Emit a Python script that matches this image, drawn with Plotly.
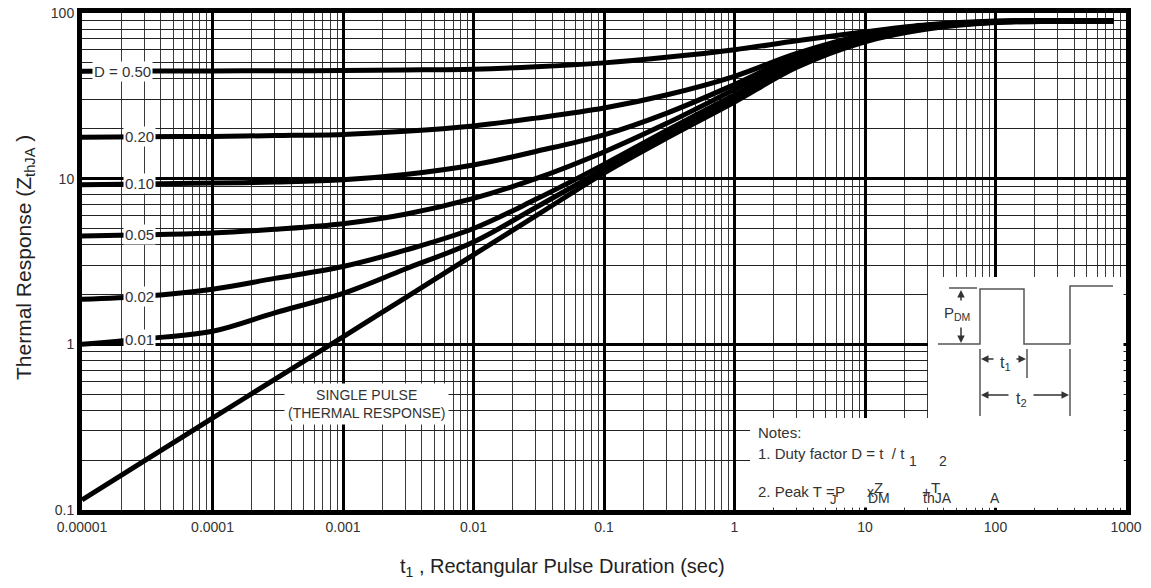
import numpy as np
import plotly.graph_objects as go

# ---------------- data ----------------
t1 = [1e-5, 3e-5, 1e-4, 3e-4, 1e-3, 3e-3, 1e-2, 3e-2, 0.1, 0.3, 1, 3, 10, 30, 100, 300, 800]

d050 = [44.5, 44.6, 44.7, 44.8, 45.0, 45.3, 45.8, 47.3, 50.0, 54.0, 60.0, 68.0, 77.0, 85.0, 89.5, 90.0, 90.0]
d020 = [17.8, 17.9, 18.0, 18.2, 18.5, 19.3, 20.8, 23.2, 26.7, 32.0, 41.5, 57.0, 74.0, 84.0, 89.0, 89.5, 89.8]
d010 = [9.2, 9.3, 9.4, 9.55, 9.85, 10.6, 12.1, 14.6, 18.4, 24.8, 37.0, 55.0, 72.0, 83.0, 88.5, 89.5, 89.6]
d005 = [4.5, 4.58, 4.7, 4.95, 5.35, 6.1, 7.6, 10.0, 14.5, 21.5, 34.5, 53.0, 71.0, 83.0, 88.5, 89.3, 89.5]
d002 = [1.87, 1.95, 2.15, 2.5, 2.95, 3.7, 5.0, 7.5, 12.2, 19.5, 32.0, 51.0, 70.0, 82.0, 88.0, 89.2, 89.5]
d001 = [1.0, 1.08, 1.2, 1.55, 2.03, 2.85, 4.15, 6.7, 11.4, 18.5, 30.8, 50.0, 69.0, 81.5, 88.0, 89.0, 89.5]
single = [0.115, 0.198, 0.358, 0.615, 1.11, 1.91, 3.47, 5.96, 10.8, 17.5, 29.0, 47.0, 67.0, 80.0, 87.5, 89.0, 89.3]

series = [d050, d020, d010, d005, d002, d001, single]
duty_labels = ["D = 0.50", "0.20", "0.10", "0.05", "0.02", "0.01"]

x_tickvals = [1e-5, 1e-4, 1e-3, 1e-2, 1e-1, 1, 10, 100, 1000]
x_ticktext = ["0.00001", "0.0001", "0.001", "0.01", "0.1", "1", "10", "100", "1000"]
y_tickvals = [0.1, 1, 10, 100]
y_ticktext = ["0.1", "1", "10", "100"]

# ---------------- layout helpers ----------------
W, H = 1151, 588
L, R, T, B = 82, 1126, 13, 510   # plot area in page pixels


def px(xp):
    return (xp - L) / (R - L)


def py(yp):
    return (B - yp) / (B - T)


FONT = "Liberation Sans, Arial, sans-serif"
NARROW = "Liberation Sans Narrow, Arial Narrow, Liberation Sans, sans-serif"
TXT = "#333333"

fig = go.Figure()
for s in series:
    fig.add_trace(go.Scatter(x=t1, y=s, mode="lines",
                             line=dict(color="black", width=5, shape="spline", smoothing=1.0),
                             hoverinfo="skip", showlegend=False))

minor_x = [k * 10.0 ** n for n in range(-5, 3) for k in range(2, 10)]
minor_y = [k * 10.0 ** n for n in range(-1, 2) for k in range(2, 10)]

fig.update_xaxes(type="log", range=[-5, 3], tickvals=x_tickvals, ticktext=x_ticktext,
                 showgrid=True, gridcolor="black", gridwidth=3, automargin=False,
                 showline=True, linecolor="black", linewidth=5, mirror=True,
                 ticks="", zeroline=False,
                 tickfont=dict(family=FONT, size=14, color=TXT),
                 minor=dict(tickvals=minor_x, showgrid=True, gridcolor="#3a3a3a", gridwidth=1, ticks=""))
fig.update_yaxes(type="log", range=[-1, 2], tickvals=y_tickvals, ticktext=y_ticktext,
                 showgrid=True, gridcolor="black", gridwidth=3, automargin=False,
                 showline=True, linecolor="black", linewidth=5, mirror=True,
                 ticks="", zeroline=False,
                 tickfont=dict(family=FONT, size=14, color=TXT),
                 minor=dict(tickvals=minor_y, showgrid=True, gridcolor="#222222", gridwidth=1, ticks=""))

annotations = []
shapes = []


def text_at(text, xp, yp, size, family=FONT, anchor="center", color=TXT, **kw):
    annotations.append(dict(x=px(xp), y=py(yp), xref="paper", yref="paper", text=text,
                            showarrow=False, xanchor=anchor, yanchor="middle",
                            font=dict(family=family, size=size, color=color), **kw))


# duty-cycle labels on the curves (white background cuts the line)
label_x = [2.06e-5, 2.75e-5, 2.75e-5, 2.75e-5, 2.75e-5, 2.75e-5]
for lab, lx, s in zip(duty_labels, label_x, series[:6]):
    ly = 10 ** np.interp(np.log10(lx), np.log10(t1), np.log10(s))
    annotations.append(dict(x=np.log10(lx), y=np.log10(ly), xref="x", yref="y",
                            text=lab, showarrow=False, bgcolor="white", borderpad=1,
                            xanchor="center", yanchor="middle",
                            font=dict(family=FONT, size=15, color=TXT)))

text_at("SINGLE PULSE<br>(THERMAL RESPONSE)", 366, 404, 14, bgcolor="white", borderpad=3)

# white areas for inset and notes (above the grid)
shapes.append(dict(type="rect", xref="paper", yref="paper", x0=px(928), x1=px(1123.5), y0=py(507.5), y1=py(277),
                   fillcolor="white", line=dict(width=0), layer="above"))
shapes.append(dict(type="rect", xref="paper", yref="paper", x0=px(750), x1=px(1123.5), y0=py(507.5), y1=py(418),
                   fillcolor="white", line=dict(width=0), layer="above"))

# pulse waveform
GREY = "#555555"
wave = [(938, 344), (980, 344), (980, 289), (1024, 289), (1024, 344), (1070, 344), (1070, 286), (1113, 286)]
path = "M " + " L ".join(f"{px(a):.5f},{py(b):.5f}" for a, b in wave)
shapes.append(dict(type="path", path=path, xref="paper", yref="paper",
                   line=dict(color=GREY, width=1.5), layer="above"))
segs = [((949, 288), (977, 288)),            # P_DM top reference
        ((980, 349), (980, 416)),            # t1/t2 left
        ((1027, 349), (1027, 378)),          # t1 right
        ((1070, 349), (1070, 416))]          # t2 right
for (a, b), (c, d) in segs:
    shapes.append(dict(type="line", xref="paper", yref="paper", x0=px(a), y0=py(b), x1=px(c), y1=py(d),
                       line=dict(color=GREY, width=1.5), layer="above"))


def arrow(hx, hy, tx, ty):
    annotations.append(dict(x=px(hx), y=py(hy), xref="paper", yref="paper",
                            ax=tx - hx, ay=ty - hy, text="", showarrow=True,
                            arrowhead=2, arrowsize=1, arrowwidth=1.5, arrowcolor="#333333"))


arrow(961, 290, 961, 302)
arrow(961, 343, 961, 326)
arrow(981, 359, 995, 359)
arrow(1026, 359, 1015, 359)
arrow(981, 395, 1010, 395)
arrow(1069, 395, 1032, 395)

text_at("P<sub>DM</sub>", 957, 313, 15, NARROW)
text_at("t<sub>1</sub>", 1005, 363, 16)
text_at("t<sub>2</sub>", 1021, 399, 16)

# notes
text_at("Notes:", 756, 432, 15, NARROW, "left")
text_at("1. Duty factor D = t  / t", 756, 453, 15, NARROW, "left")
text_at("1", 913, 461, 14, NARROW)
text_at("2", 943, 461, 14, NARROW)
text_at("2. Peak T", 756, 491, 15, NARROW, "left")
text_at("=", 830, 491, 15, NARROW)
text_at("J", 833, 499, 13, NARROW)
text_at("P", 840, 491, 15, NARROW)
text_at("x", 870, 492, 14, NARROW)
text_at("Z", 878, 487, 15, NARROW)
text_at("DM", 879, 498, 14, NARROW)
text_at("+", 926, 491, 15, NARROW)
text_at("T", 935, 487, 15, NARROW)
text_at("thJA", 937, 498, 14, NARROW)
text_at("A", 995, 498, 14, NARROW)

# axis titles
text_at("t<sub>1</sub> , Rectangular Pulse Duration (sec)", 562, 567, 20, color="#222222")
text_at("Thermal Response (Z<sub>thJA</sub> )", 25, 258, 21, color="#222222", textangle=-90)

fig.update_layout(width=W, height=H,
                  margin=dict(l=L, r=W - R, t=T, b=H - B),
                  paper_bgcolor="white", plot_bgcolor="white",
                  annotations=annotations, shapes=shapes, showlegend=False)

fig.write_html("out.html", config={"displayModeBar": False},
               post_script="document.body.style.margin='0px';")
